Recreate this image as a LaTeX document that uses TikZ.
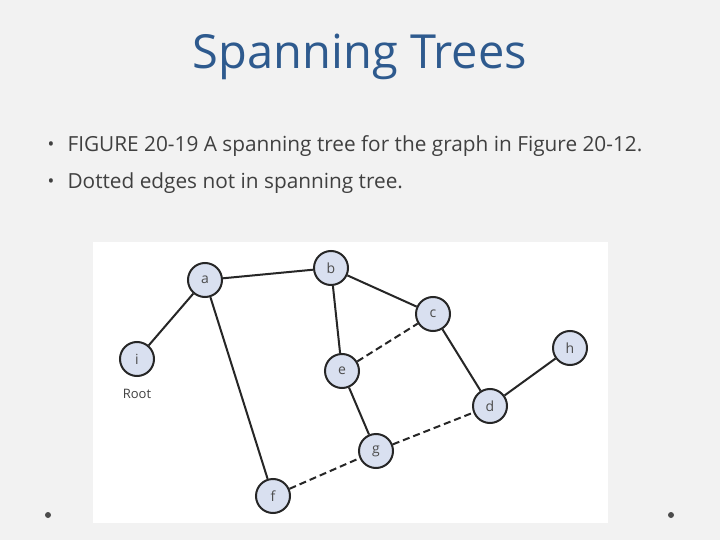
\documentclass[tikz,border=0pt]{standalone}
\usepackage{fontspec}
\setmainfont{Open Sans}
\definecolor{titleblue}{HTML}{2E5A8E}
\definecolor{nodefill}{HTML}{D9E0F0}
\definecolor{bg}{HTML}{F2F2F2}
\tikzset{
  vert/.style={circle,draw=black!85,line width=2pt,fill=nodefill,minimum size=34pt,inner sep=0pt,font=\fontsize{14}{16}\selectfont,text=black!70},
  tree/.style={line width=2pt,draw=black!85},
  nontree/.style={line width=2pt,draw=black!85,dash pattern=on 7pt off 4pt},
}
\begin{document}
\begin{tikzpicture}[x=1pt,y=-1pt]
\useasboundingbox (0,0) rectangle (720,540);
\fill[bg] (0,0) rectangle (720,540);
\fill[white] (93,242) rectangle (608,523);
\node[text=titleblue,font=\fontsize{47}{52}\selectfont] (title) at (360,57) {Spanning Trees};
\node[anchor=west,text=black!75,font=\fontsize{18}{22}\selectfont] (b1) at (44,146) {•};
\node[anchor=west,text=black!75,font=\fontsize{18}{22}\selectfont] (b2) at (44,183) {•};
\node[anchor=west,text=black!75,font=\fontsize{20.8}{24}\selectfont] (l1) at (64,146) {FIGURE 20-19 A spanning tree for the graph in Figure 20-12.};
\node[anchor=west,text=black!75,font=\fontsize{20.8}{24}\selectfont] (l2) at (64,183) {Dotted edges not in spanning tree.};
\fill[black!70] (48,515) circle (3pt) (671,515) circle (3pt);
\node[vert] (a) at (205,280) {a};
\node[vert] (b) at (331,268) {b};
\node[vert] (c) at (433,314) {c};
\node[vert] (e) at (342,371) {e};
\node[vert] (h) at (570,348) {h};
\node[vert] (i) at (137,359) {i};
\node[vert] (d) at (490,406) {d};
\node[vert] (g) at (376,451) {g};
\node[vert] (f) at (273,496) {f};
\node[text=black!75,font=\fontsize{13}{15}\selectfont] (root) at (137,394) {Root};
\draw[tree] (i) -- (a);
\draw[tree] (a) -- (b);
\draw[tree] (a) -- (f);
\draw[tree] (b) -- (e);
\draw[tree] (b) -- (c);
\draw[tree] (c) -- (d);
\draw[tree] (d) -- (h);
\draw[tree] (e) -- (g);
\draw[nontree] (e) -- (c);
\draw[nontree] (g) -- (d);
\draw[nontree] (f) -- (g);
\end{tikzpicture}
\end{document}
